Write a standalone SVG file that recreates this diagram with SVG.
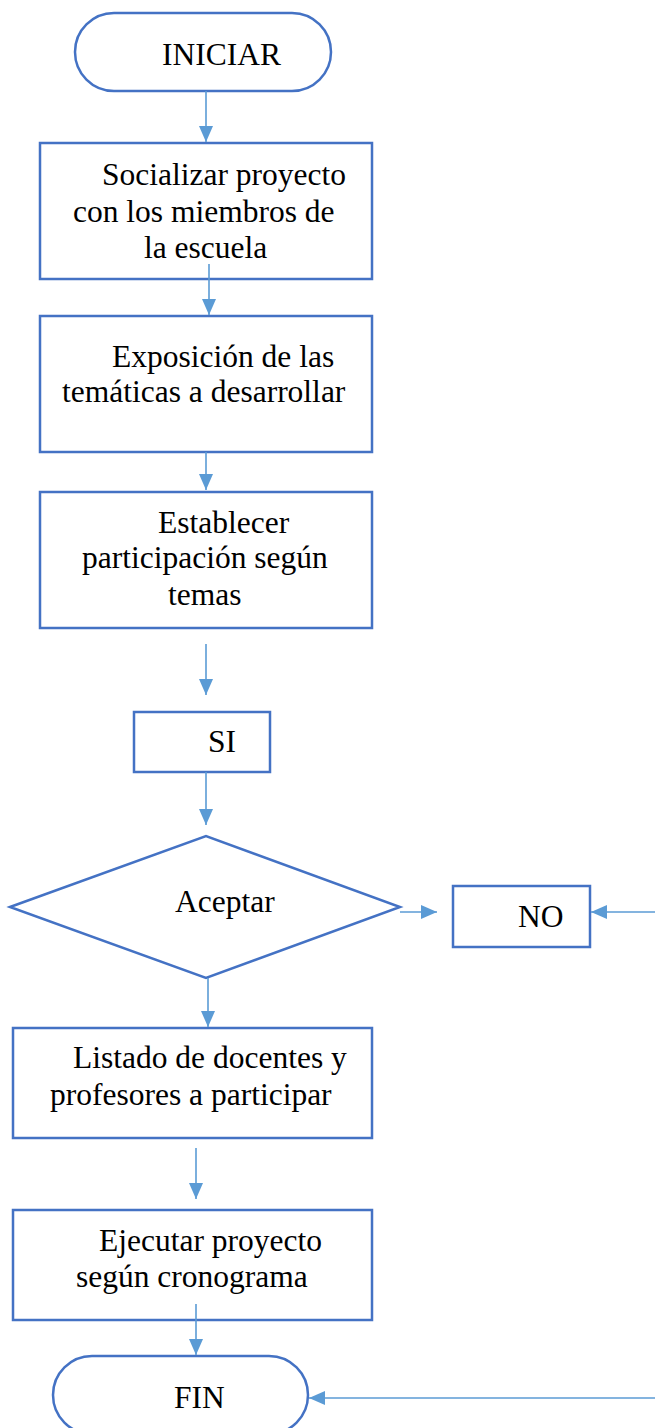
<svg xmlns="http://www.w3.org/2000/svg" width="655" height="1428" viewBox="0 0 655 1428">
<style>
.n{fill:#ffffff;stroke:#4472C4;stroke-width:2.5}
.t{font-family:"Liberation Serif","Times New Roman",serif;font-size:31.5px;fill:#000000}
.c{fill:none;stroke:#5B9BD5;stroke-width:1.6}
</style>
<defs>
<marker id="ah" markerUnits="userSpaceOnUse" markerWidth="16" markerHeight="14" refX="16" refY="7" orient="auto">
<path d="M0,0 L16,7 L0,14 z" fill="#5B9BD5"/>
</marker>
</defs>
<rect width="655" height="1428" fill="#ffffff"/>
<g id="iniciar">
<rect class="n" x="75" y="13" width="256" height="78" rx="39"/>
<text class="t" x="162" y="65">INICIAR</text>
</g>
<g id="socializar">
<rect class="n" x="40" y="143" width="332" height="136"/>
<text class="t" x="102" y="185">Socializar proyecto</text>
<text class="t" x="73" y="222">con los miembros de</text>
<text class="t" x="144" y="258">la escuela</text>
</g>
<g id="exposicion">
<rect class="n" x="40" y="316" width="332" height="136"/>
<text class="t" x="112" y="367">Exposición de las</text>
<text class="t" x="62" y="402">temáticas a desarrollar</text>
</g>
<g id="establecer">
<rect class="n" x="40" y="492" width="332" height="136"/>
<text class="t" x="158" y="533">Establecer</text>
<text class="t" x="82" y="568">participación según</text>
<text class="t" x="168" y="605">temas</text>
</g>
<g id="si">
<rect class="n" x="134" y="712" width="136" height="60"/>
<text class="t" x="208" y="752">SI</text>
</g>
<g id="aceptar">
<polygon class="n" points="10,907 206,836 400,907 206,978"/>
<text class="t" x="175" y="912">Aceptar</text>
</g>
<g id="no">
<rect class="n" x="453" y="886" width="137" height="61"/>
<text class="t" x="518" y="927">NO</text>
</g>
<g id="listado">
<rect class="n" x="13" y="1028" width="359" height="110"/>
<text class="t" x="73" y="1068">Listado de docentes y</text>
<text class="t" x="50" y="1105">profesores a participar</text>
</g>
<g id="ejecutar">
<rect class="n" x="13" y="1210" width="359" height="110"/>
<text class="t" x="99" y="1251">Ejecutar proyecto</text>
<text class="t" x="76" y="1287">según cronograma</text>
</g>
<g id="fin">
<rect class="n" x="53" y="1356" width="255" height="78" rx="39"/>
<text class="t" x="174" y="1408">FIN</text>
</g>
<g id="connectors">
<path class="c" d="M206,91 V142" marker-end="url(#ah)"/>
<path class="c" d="M209,264 V315" marker-end="url(#ah)"/>
<path class="c" d="M206,452 V490" marker-end="url(#ah)"/>
<path class="c" d="M206,644 V695" marker-end="url(#ah)"/>
<path class="c" d="M206,772 V825" marker-end="url(#ah)"/>
<path class="c" d="M400,912 H437" marker-end="url(#ah)"/>
<path class="c" d="M655,912 H591" marker-end="url(#ah)"/>
<path class="c" d="M208,978 V1027" marker-end="url(#ah)"/>
<path class="c" d="M196,1148 V1199" marker-end="url(#ah)"/>
<path class="c" d="M196,1304 V1355" marker-end="url(#ah)"/>
<path class="c" d="M655,1398 H309" marker-end="url(#ah)"/>
</g>
</svg>
